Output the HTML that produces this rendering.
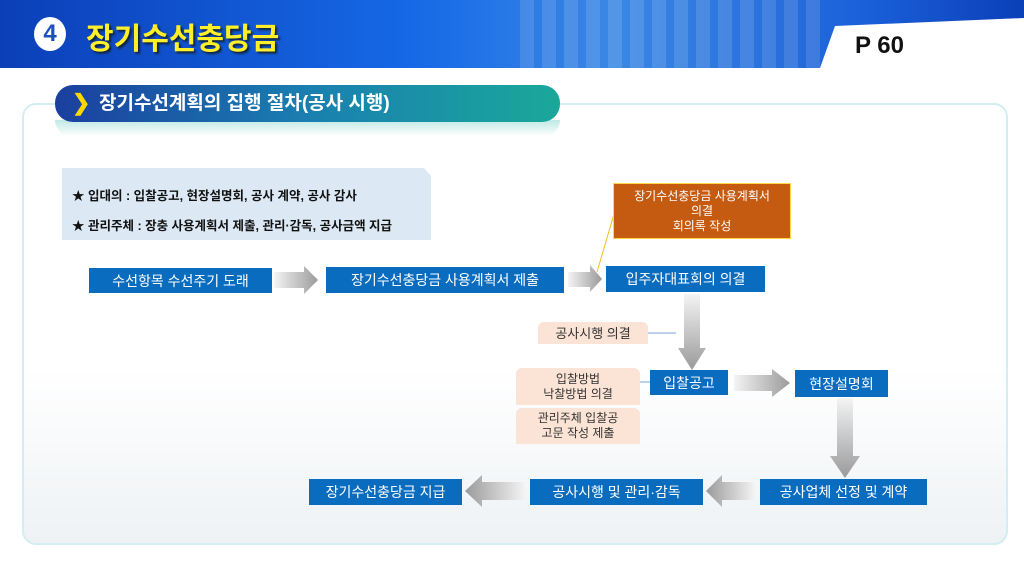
<!DOCTYPE html>
<html><head><meta charset="utf-8"><style>
body{margin:0;width:1024px;height:576px;position:relative;overflow:hidden;background:#fff;font-family:"Liberation Sans","Noto Sans CJK KR",sans-serif}
.a{position:absolute;box-sizing:border-box}
.b{background:#0a6cbf;color:#fff;font-size:14px;display:flex;align-items:center;justify-content:center;white-space:nowrap}
.p{background:#fbe4d5;color:#333;font-size:12px;display:flex;align-items:center;justify-content:center;text-align:center;line-height:15px;border-radius:6px 6px 0 0}
</style></head><body>
<div class="a" style="left:0;top:0;width:1024px;height:68px;background:linear-gradient(90deg,#0b3fb8 0%,#1668e6 40%,#3a8ae8 60%,#1a5fd8 85%,#0b3fb8 100%)"></div>
<div class="a" style="left:520px;top:0;width:300px;height:68px;background:repeating-linear-gradient(90deg,rgba(180,200,230,.2) 0 14px,rgba(60,110,200,.1) 14px 22px)"></div>
<svg class="a" style="left:800px;top:18px" width="224" height="50"><polygon points="20,50 35,8 224,0 224,50" fill="#fff"/></svg>
<div class="a" style="left:855px;top:32px;font-size:24px;font-weight:bold;color:#111">P 60</div>
<div class="a" style="left:34px;top:17px;width:32px;height:34px;border-radius:50%;background:#fff;color:#1a4fc0;font-size:24px;font-weight:bold;text-align:center;line-height:34px">4</div>
<div class="a" style="left:86px;top:14px;font-size:30px;font-weight:bold;color:#ffef2a;text-shadow:2px 2px 2px #123">장기수선충당금</div>
<div class="a" style="left:22px;top:103px;width:986px;height:442px;border:2px solid #d2eef2;border-radius:14px;background:linear-gradient(180deg,#fff 60%,#eef2f5 100%)"></div>
<div class="a" style="left:55px;top:120px;width:505px;height:16px;background:linear-gradient(180deg,#bfe9e4,#fff);border-radius:0 0 20px 20px"></div>
<div class="a" style="left:55px;top:85px;width:505px;height:37px;border-radius:18px;background:linear-gradient(90deg,#1b3f9f,#1a7fb0 50%,#1aa89a);color:#fff;font-size:19px;font-weight:bold;line-height:37px;padding-left:44px">장기수선계획의 집행 절차(공사 시행)</div>
<div class="a" style="left:72px;top:90px;color:#ffd800;font-size:22px;font-weight:bold">❯</div>
<div class="a" style="left:62px;top:168px;width:369px;height:72px;background:#dce9f4;clip-path:polygon(0 0,362px 0,369px 8px,369px 72px,0 72px);font-size:12.5px;font-weight:bold;color:#111;padding:13px 0 0 10px;line-height:30px">★ 입대의 : 입찰공고, 현장설명회, 공사 계약, 공사 감사<br>★ 관리주체 : 장충 사용계획서 제출, 관리·감독, 공사금액 지급</div>
<svg class="a" style="left:0;top:0" width="1024" height="576">
<defs>
<linearGradient id="h" x1="0" x2="1"><stop offset="0" stop-color="#f4f4f4"/><stop offset="1" stop-color="#9a9a9a"/></linearGradient>
<linearGradient id="hl" x1="1" x2="0"><stop offset="0" stop-color="#f4f4f4"/><stop offset="1" stop-color="#9a9a9a"/></linearGradient>
<linearGradient id="v" x1="0" y1="0" x2="0" y2="1"><stop offset="0" stop-color="#f4f4f4"/><stop offset="1" stop-color="#9a9a9a"/></linearGradient>
</defs>
<polygon points="274,272 304,272 304,266 318,280 304,294 304,288 274,288" fill="url(#h)"/>
<polygon points="568,272 590,272 590,265 602,279 590,292 590,287 568,287" fill="url(#h)"/>
<polygon points="734,375 772,375 772,369 790,383 772,397 772,391 734,391" fill="url(#h)"/>
<polygon points="525,482 482,482 482,475 465,491 482,507 482,500 525,500" fill="url(#hl)"/>
<polygon points="755,482 722,482 722,475 706,491 722,507 722,500 755,500" fill="url(#hl)"/>
<polygon points="684,294 700,294 700,348 706,348 692,370 678,348 684,348" fill="url(#v)"/>
<polygon points="837,398 853,398 853,456 860,456 845,478 830,456 837,456" fill="url(#v)"/>
<line x1="597" y1="272" x2="619" y2="197" stroke="#f0c020" stroke-width="1"/>
<line x1="648" y1="333" x2="676" y2="333" stroke="#7aa6d8" stroke-width="1"/>
<line x1="640" y1="382" x2="650" y2="382" stroke="#7aa6d8" stroke-width="1"/>
</svg>
<div class="a b" style="left:89px;top:268px;width:183px;height:25px">수선항목 수선주기 도래</div>
<div class="a b" style="left:326px;top:267px;width:238px;height:26px">장기수선충당금 사용계획서 제출</div>
<div class="a b" style="left:606px;top:266px;width:159px;height:26px">입주자대표회의 의결</div>
<div class="a" style="left:613px;top:183px;width:178px;height:56px;background:#c55a11;border:1px solid #ffd84a;color:#fff;font-size:12px;text-align:center;line-height:15px;padding-top:5px">장기수선충당금 사용계획서<br>의결<br>회의록 작성</div>
<div class="a p" style="left:538px;top:322px;width:110px;height:22px;font-size:13px">공사시행 의결</div>
<div class="a b" style="left:650px;top:370px;width:78px;height:25px">입찰공고</div>
<div class="a p" style="left:516px;top:368px;width:124px;height:37px">입찰방법<br>낙찰방법 의결</div>
<div class="a p" style="left:516px;top:408px;width:124px;height:36px">관리주체 입찰공<br>고문 작성 제출</div>
<div class="a b" style="left:795px;top:370px;width:93px;height:27px">현장설명회</div>
<div class="a b" style="left:760px;top:479px;width:167px;height:26px">공사업체 선정 및 계약</div>
<div class="a b" style="left:530px;top:479px;width:173px;height:26px">공사시행 및 관리·감독</div>
<div class="a b" style="left:309px;top:479px;width:153px;height:26px">장기수선충당금 지급</div>
</body></html>
